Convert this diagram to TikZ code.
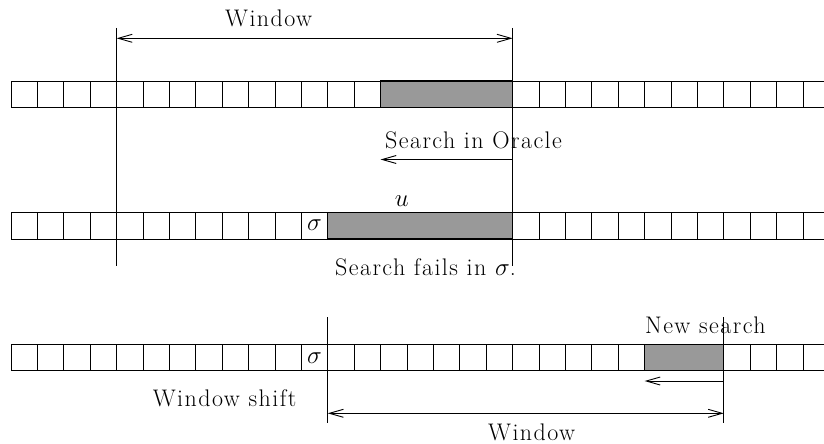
\documentclass[tikz,border=0pt]{standalone}
\usepackage{fontspec}
\newfontfamily\spacedrm{Latin Modern Roman}[LetterSpace=6]
\usetikzlibrary{arrows.meta}
\definecolor{boxgray}{RGB}{153,153,153}
\begin{document}
\begin{tikzpicture}[x=1pt,y=-1pt,
  cellbox/.style={draw, line width=0.9pt, minimum width=26.4pt, minimum height=26.4pt, inner sep=0pt, outer sep=0pt},
  hlbox/.style={draw, line width=1.3pt, fill=boxgray, minimum height=26.4pt, inner sep=0pt, outer sep=0pt},
  guide/.style={line width=1pt},
  tip/.tip={Straight Barb[length=14pt,width=8pt,line width=0.9pt]},
  arr/.style={line width=1pt, -tip},
  darr/.style={line width=1pt, tip-tip},
  lbl/.style={font=\spacedrm\fontsize{24}{28}\selectfont, inner sep=0pt, anchor=base west},
  sym/.style={font=\fontsize{24}{28}\selectfont, inner sep=0pt, anchor=base}]
\useasboundingbox (0,0) rectangle (824,444);
\clip (0,0) rectangle (824,444);

% three rows of cells
\foreach \r/\yt in {1/81, 2/212.7, 3/344.3} {
  \foreach \i in {0,...,30} {
    \node[cellbox] (r\r c\i) at ({11+\i*26.4+13.2}, {\yt+13.2}) {};
  }
}

% highlighted blocks
\node[hlbox, minimum width=132pt] (g1) at (446.6, 94.2) {};
\node[hlbox, minimum width=184.8pt] (g2) at (420.2, 225.9) {};
\node[hlbox, minimum width=79.2pt] (g3) at (684.2, 357.5) {};

% guide lines, top part
\coordinate (v1t) at (116.6,28);
\coordinate (v1b) at (116.6,266);
\coordinate (v2t) at (512.6,28);
\coordinate (v2b) at (512.6,266);
\draw[guide] (v1t) -- (v1b);
\draw[guide] (v2t) -- (v2b);
\coordinate (wa) at (116.6,38.3);
\coordinate (wb) at (512.6,38.3);
\draw[darr] (wa) -- (wb);
\coordinate (sa) at (512.6,159.5);
\coordinate (sb) at (380.6,159.5);
\draw[arr] (sa) -- (sb);

% guide lines, bottom part
\coordinate (v3t) at (327.8,317);
\coordinate (v3b) at (327.8,423);
\coordinate (v4t) at (723.8,317);
\coordinate (v4b) at (723.8,423);
\draw[guide] (v3t) -- (v3b);
\draw[guide] (v4t) -- (v4b);
\coordinate (na) at (723.8,381);
\coordinate (nb) at (644.6,381);
\draw[arr] (na) -- (nb);
\coordinate (w2a) at (327.8,413.3);
\coordinate (w2b) at (723.8,413.3);
\draw[darr] (w2a) -- (w2b);

% labels
\node[lbl] (t1) at (225,27) {Window};
\node[lbl] (t2) at (385,148) {Search in Oracle};
\node[sym] (u) at (401.7,206.5) {$u$};
\node[sym] (s1) at (314.6,230) {$\sigma$};
\node[lbl] (t3) at (335,275) {Search fails in $\sigma$.};
\node[sym] (s2) at (314.6,363) {$\sigma$};
\node[lbl] (t4) at (645,333) {New search};
\node[lbl] (t5) at (152.7,406.7) {Window shift};
\node[lbl] (t6) at (488,440) {Window};
\end{tikzpicture}
\end{document}
